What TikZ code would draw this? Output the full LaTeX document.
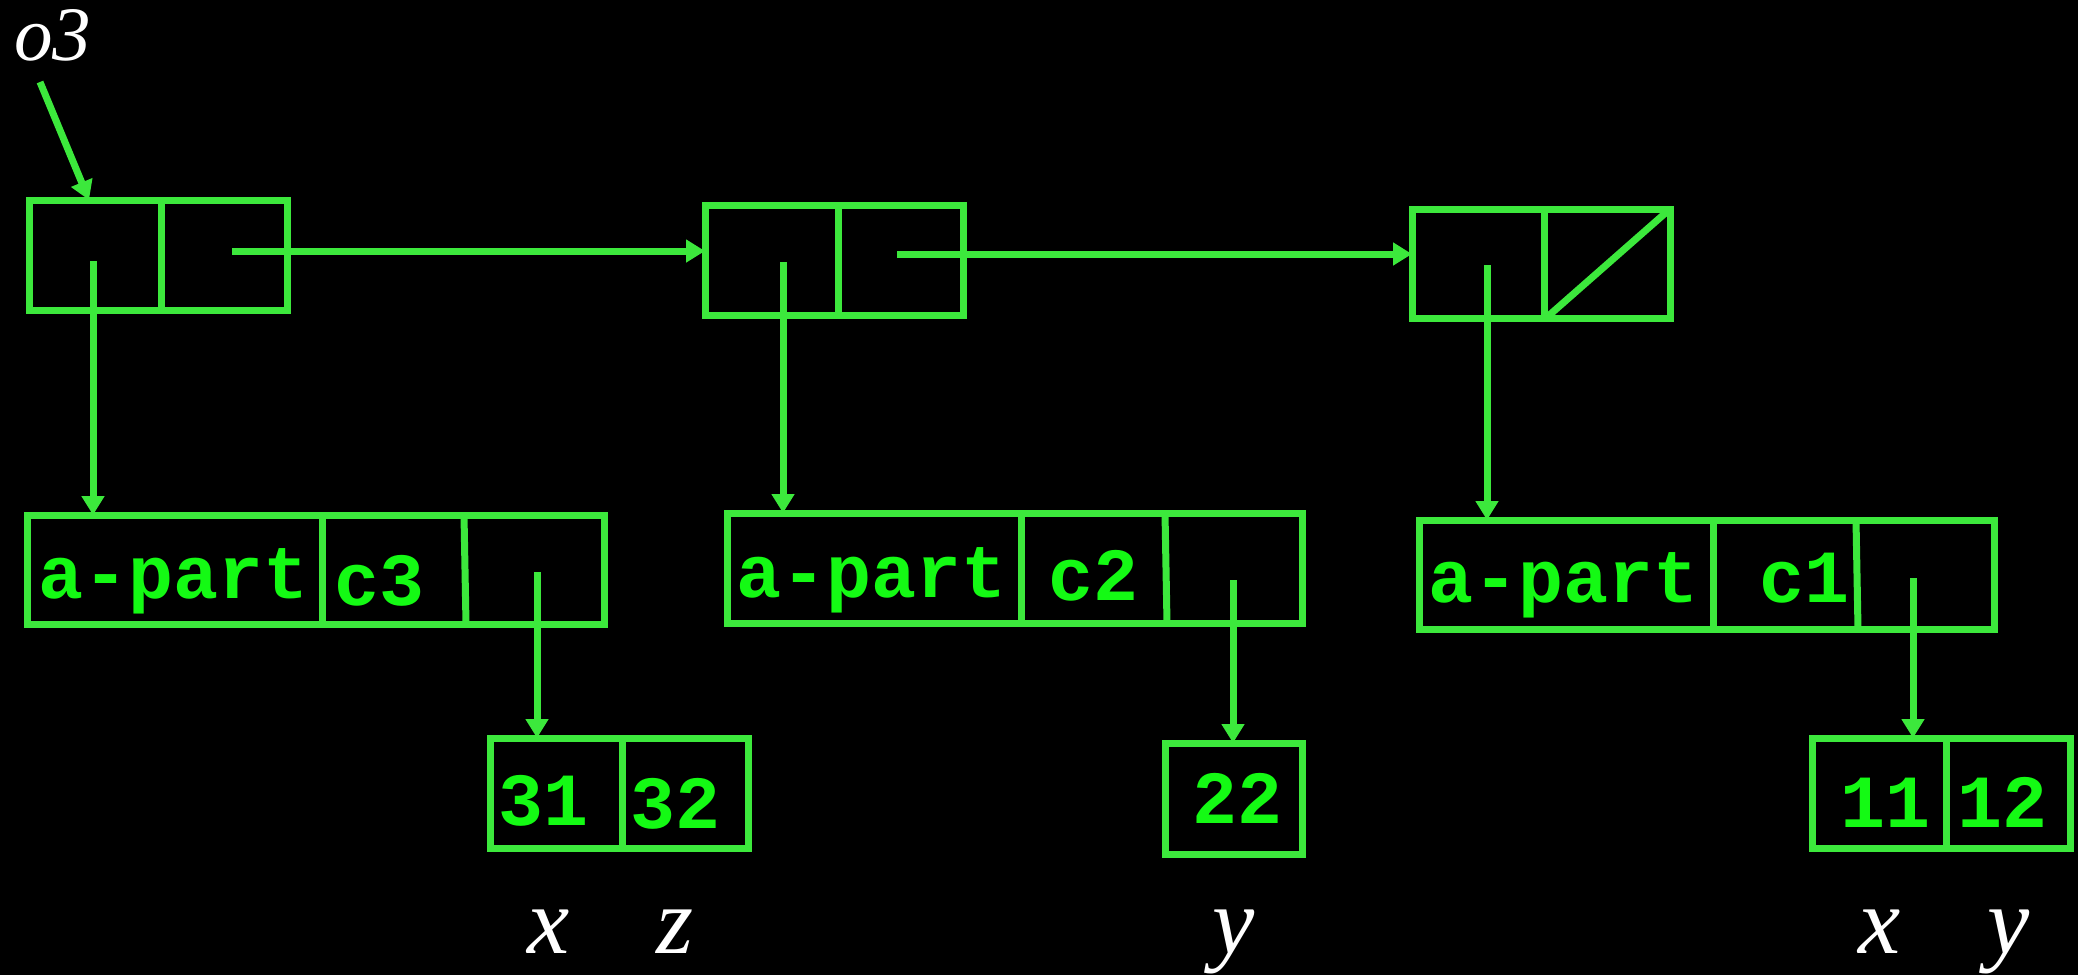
\documentclass[tikz,border=0pt]{standalone}
\usepackage{fontspec}
\setmainfont{Liberation Serif}
\newfontfamily\codefont{Liberation Mono}
\usetikzlibrary{arrows.meta}
\definecolor{wire}{RGB}{60,232,60}
\definecolor{code}{RGB}{20,250,20}
\tikzset{
  wire/.style={draw=wire, line width=7pt},
  box/.style={wire, rectangle, inner sep=0pt, outer sep=0pt, line join=miter},
  ptr/.style={wire, -{Triangle[length=19pt,width=22pt]}},
  cell/.style={text=code, inner sep=0pt, anchor=base,
    font=\codefont\bfseries\fontsize{75}{80}\selectfont},
  var/.style={text=white, inner sep=0pt, anchor=base,
    font=\itshape\fontsize{95}{100}\selectfont},
}
\begin{document}
\begin{tikzpicture}[x=1pt, y=-1pt]
  \fill[black] (0,0) rectangle (2078,975);
  \useasboundingbox (0,0) rectangle (2078,975);

  % cons cells of the list
  \node[box, minimum width=258pt, minimum height=110pt] (b1) at (158,255) {};
  \node[box, minimum width=258pt, minimum height=110pt] (b2) at (834,260) {};
  \node[box, minimum width=258pt, minimum height=109pt] (b3) at (1541,263.5) {};
  \draw[wire] (161,200) -- (161,310);
  \draw[wire] (838,205) -- (838,315);
  \draw[wire] (1544,209) -- (1544,318);
  \draw[wire] (1546,318) -- (b3.north east);

  % records
  \node[box, minimum width=577pt, minimum height=109pt] (r1) at (315.5,569.5) {};
  \node[box, minimum width=575pt, minimum height=110pt] (r2) at (1014.5,568) {};
  \node[box, minimum width=575pt, minimum height=109pt] (r3) at (1706.5,574.5) {};
  \draw[wire] (322,515) -- (322,624);
  \draw[wire] (464,515) -- (466,624);
  \draw[wire] (1021,513) -- (1021,623);
  \draw[wire] (1165,513) -- (1167,623);
  \draw[wire] (1713,520) -- (1713,629);
  \draw[wire] (1856,520) -- (1858,629);

  \node[cell] (t1a) at (173.5,598) {a-part};
  \node[cell] (t1c) at (379.5,605) {c3};
  \node[cell] (t2a) at (872,597) {a-part};
  \node[cell] (t2c) at (1093,600) {c2};
  \node[cell] (t3a) at (1564,602) {a-part};
  \node[cell] (t3c) at (1804,602) {c1};

  % value vectors
  \node[box, minimum width=258pt, minimum height=110pt] (s1) at (619,793) {};
  \node[box, minimum width=137pt, minimum height=111pt] (s2) at (1233.5,798.5) {};
  \node[box, minimum width=258pt, minimum height=110pt] (s3) at (1941,793) {};
  \draw[wire] (622,738) -- (622,848);
  \draw[wire] (1946,738) -- (1946,848);

  \node[cell] (v31) at (544,825) {31};
  \node[cell] (v32) at (676,828) {32};
  \node[cell] (v22) at (1237.5,823) {22};
  \node[cell] (v11) at (1885,827) {11};
  \node[cell] (v12) at (2002.5,827) {12};

  \node[var] (lx1) at (549,953) {x};
  \node[var] (lz1) at (675,953) {z};
  \node[var] (ly2) at (1234,953) {y};
  \node[var] (lx3) at (1880,953) {x};
  \node[var] (ly3) at (2009,953) {y};

  \node[text=white, inner sep=0pt, anchor=base west,
        font=\itshape\fontsize{77}{82}\selectfont] (o3) at (14,60) {o3};

  % pointer origins
  \coordinate (o3tail) at (40,82);
  \coordinate (o3head) at (89,200);
  \coordinate (p1) at (93,261);
  \coordinate (h1) at (232,251);
  \coordinate (p2) at (783,262);
  \coordinate (h2) at (897,254);
  \coordinate (p3) at (1487,265);
  \coordinate (q1) at (537,572);
  \coordinate (q2) at (1233,580);
  \coordinate (q3) at (1913,578);

  % pointers
  \draw[ptr] (o3tail) -- (o3head);
  \draw[ptr] (h1) -- (h1 -| b2.west);
  \draw[ptr] (h2) -- (h2 -| b3.west);
  \draw[ptr] (p1) -- (p1 |- r1.north);
  \draw[ptr] (p2) -- (p2 |- r2.north);
  \draw[ptr] (p3) -- (p3 |- r3.north);
  \draw[ptr] (q1) -- (q1 |- s1.north);
  \draw[ptr] (q2) -- (q2 |- s2.north);
  \draw[ptr] (q3) -- (q3 |- s3.north);
\end{tikzpicture}
\end{document}
